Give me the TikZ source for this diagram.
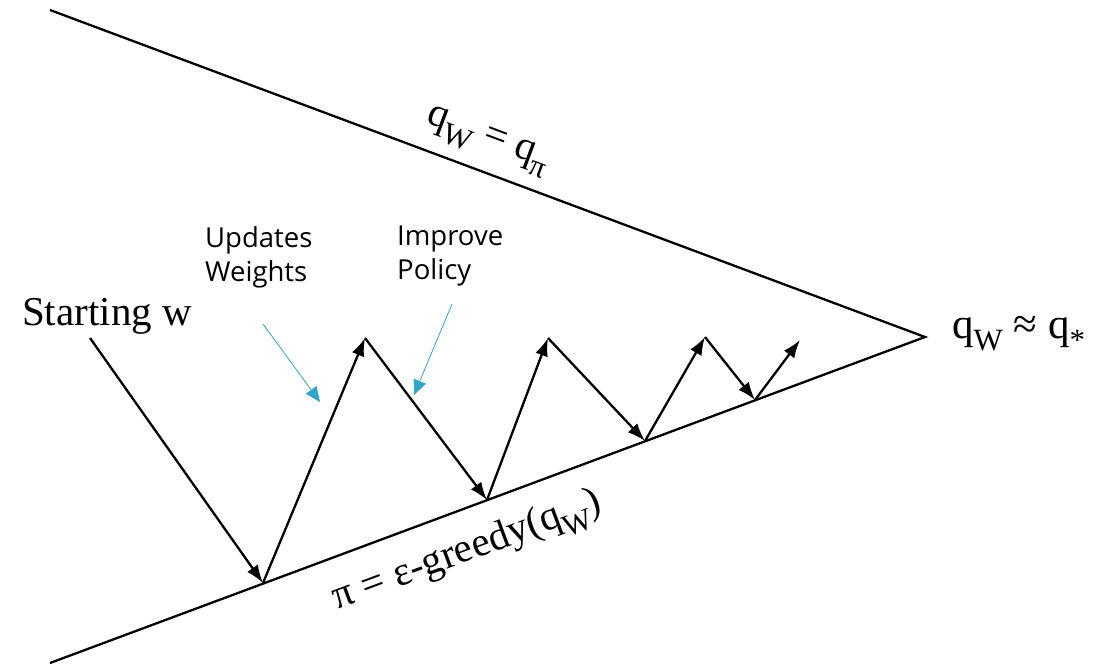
\documentclass[tikz,border=0pt]{standalone}
\usepackage{fontspec}
\setmainfont{Liberation Serif}
\newfontfamily\uisans{Open Sans}
\usetikzlibrary{arrows.meta}
\definecolor{calloutteal}{RGB}{50,165,200}
\newcommand\lowsub[1]{\raisebox{-0.3em}{\fontsize{31}{33}\selectfont #1}}
\begin{document}
\begin{tikzpicture}[x=1pt,y=-1pt,
  edge/.style={line width=2.3pt, -{Latex[length=18pt,width=13pt]}},
  frame/.style={line width=2.3pt},
  callout/.style={draw=calloutteal, line width=0.8pt, -{Triangle[length=15pt,width=13pt]}},
  mathlbl/.style={font=\fontsize{41}{44}\selectfont, inner sep=0pt},
  note/.style={font=\uisans\fontsize{27.5}{34}\selectfont, align=left, inner sep=0pt, anchor=north west}]
\useasboundingbox (0,0) rectangle (1096,667);
\coordinate (A) at (50,10);
\coordinate (B) at (50,663);
\coordinate (T) at (925,337);
\draw[frame] (A) -- (T) -- (B);
% zigzag points
\coordinate (s) at (90,338);
\coordinate (l1) at (263,583);
\coordinate (p1) at (365,338);
\coordinate (l2) at (487,500);
\coordinate (p2) at (548,338);
\coordinate (l3) at (645,441);
\coordinate (p3) at (705,337);
\coordinate (l4) at (755,400);
\coordinate (e) at (800,340);
\draw[edge] (s) -- (l1);
\draw[edge] (l1) -- (p1);
\draw[edge] (p1) -- (l2);
\draw[edge] (l2) -- (p2);
\draw[edge] (p2) -- (l3);
\draw[edge] (l3) -- (p3);
\draw[edge] (p3) -- (l4);
\draw[edge] (l4) -- (e);
% labels
\node[mathlbl, anchor=base west] (start) at (22,325) {Starting w};
\node[mathlbl, anchor=base west, font=\fontsize{43}{46}\selectfont] (conv) at (952,338) {q\lowsub{W} ≈ q\lowsub{*}};
\node[mathlbl, rotate=-20.5] (upper) at (487,142) {q\lowsub{W} = q\lowsub{π}};
\node[mathlbl, rotate=20.4] (lower) at (468,553) {π = ε-greedy(q\lowsub{W})};
\node[note] (upd) at (205,226) {Updates\\Weights};
\node[note] (imp) at (397,226) {Improve\\Policy};
\coordinate (c1s) at (263,324);
\coordinate (c1e) at (320,402);
\coordinate (c2s) at (452,304);
\coordinate (c2e) at (414,395);
\draw[callout] (c1s) -- (c1e);
\draw[callout] (c2s) -- (c2e);
\end{tikzpicture}
\end{document}
